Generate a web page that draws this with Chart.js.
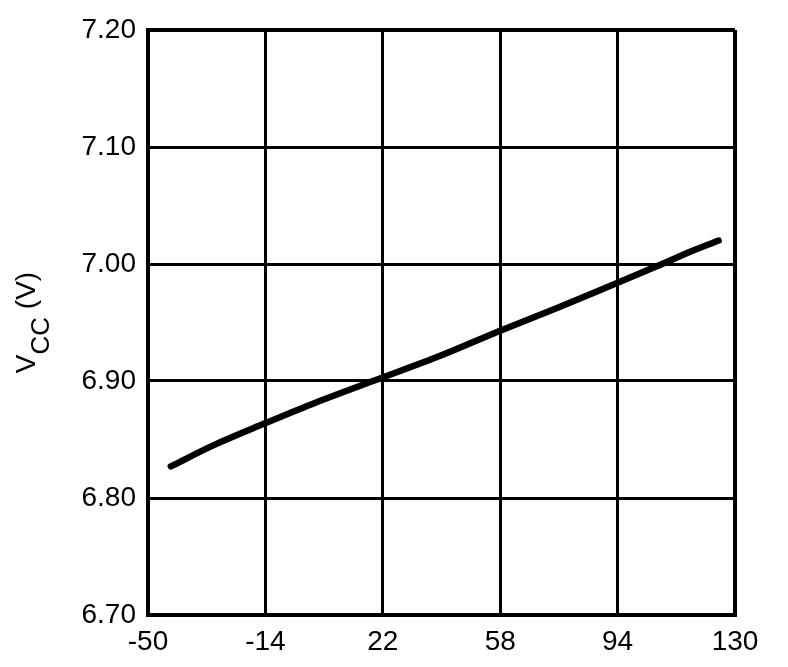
<!DOCTYPE html>
<html>
<head>
<meta charset="utf-8">
<script src="https://cdn.jsdelivr.net/npm/chart.js@4"></script>
<style>
	html, body { margin: 0; padding: 0; background: #fff; }
	#wrap { width: 788px; height: 667px; }
</style>
</head>
<body>
<div id="wrap"><canvas id="cntx_vcc" width="788" height="667"></canvas></div>
<script>
// temperature (x) and supply voltage (y)
const temperature = [-43, -30, -14, 0, 19, 40, 58, 76, 94, 106, 115, 125];
const vcc_values = [6.827, 6.845, 6.864, 6.880, 6.900, 6.922, 6.943, 6.963, 6.984, 6.998, 7.009, 7.020];
const x_ticks = [-50, -14, 22, 58, 94, 130];
const y_ticks = [6.70, 6.80, 6.90, 7.00, 7.10, 7.20];

const tickFont = { family: "'Liberation Sans', Arial, sans-serif", size: 28 };

// y axis title with subscript, canvas has no rich text
const yTitle = {
	id: "yTitle",
	afterDraw: (chart) => {
		const ctx = chart.ctx;
		const area = chart.chartArea;
		const fam = "'Liberation Sans', Arial, sans-serif";
		ctx.save();
		ctx.fillStyle = "#000";
		ctx.textBaseline = "alphabetic";
		ctx.font = "28px " + fam;
		const wV = ctx.measureText("V").width;
		const wP = ctx.measureText(" (V)").width;
		ctx.font = "26px " + fam;
		const wC = ctx.measureText("CC").width;
		const total = wV + wC + wP;
		ctx.translate(35, (area.top + area.bottom) / 2);
		ctx.rotate(-Math.PI / 2);
		let x = -total / 2;
		ctx.font = "28px " + fam;
		ctx.fillText("V", x, 0);
		x += wV;
		ctx.font = "26px " + fam;
		ctx.fillText("CC", x, 14);
		x += wC;
		ctx.font = "28px " + fam;
		ctx.fillText(" (V)", x, 0);
		ctx.restore();
	},
};

const edgeWidth = (ctx) => {
	const n = ctx.scale.ticks.length;
	return ctx.index === 0 || ctx.index === n - 1 ? 4 : 3;
};

drawChart = (canvas) => {
	const myChart = new Chart(canvas, {
		type: "scatter",
		data: {
			datasets: [
				{
					label: "VCC",
					data: temperature.map((t, i) => ({ x: t, y: vcc_values[i] })),
					showLine: true,
					borderColor: "#000",
					borderWidth: 6.5,
					borderCapStyle: "round",
					borderJoinStyle: "round",
					pointRadius: 0,
					cubicInterpolationMode: "monotone",
					fill: false,
				},
			],
		},
		options: {
			responsive: false,
			animation: false,
			layout: { padding: { top: 30, right: 53, bottom: 0, left: 0 } },
			plugins: {
				legend: { display: false },
				tooltip: { enabled: false },
			},
			scales: {
				x: {
					type: "linear",
					min: -50,
					max: 130,
					afterBuildTicks: (scale) => {
						scale.ticks = x_ticks.map((v) => ({ value: v }));
					},
					afterFit: (scale) => {
						scale.height = 52;
					},
					grid: { color: "#000", lineWidth: edgeWidth, drawTicks: false },
					border: { display: true, color: "#000", width: 4 },
					ticks: {
						color: "#000",
						font: tickFont,
						padding: 10,
						maxRotation: 0,
						autoSkip: false,
					},
				},
				y: {
					min: 6.7,
					max: 7.2,
					afterBuildTicks: (scale) => {
						scale.ticks = y_ticks.map((v) => ({ value: v }));
					},
					afterFit: (scale) => {
						scale.width = 148;
					},
					grid: { color: "#000", lineWidth: edgeWidth, drawTicks: false },
					border: { display: true, color: "#000", width: 4 },
					ticks: {
						color: "#000",
						font: tickFont,
						padding: 12,
						autoSkip: false,
						callback: (v) => Number(v).toFixed(2),
					},
				},
			},
		},
		plugins: [yTitle],
	});
};
drawChart(document.querySelector("#cntx_vcc"));
</script>
</body>
</html>
